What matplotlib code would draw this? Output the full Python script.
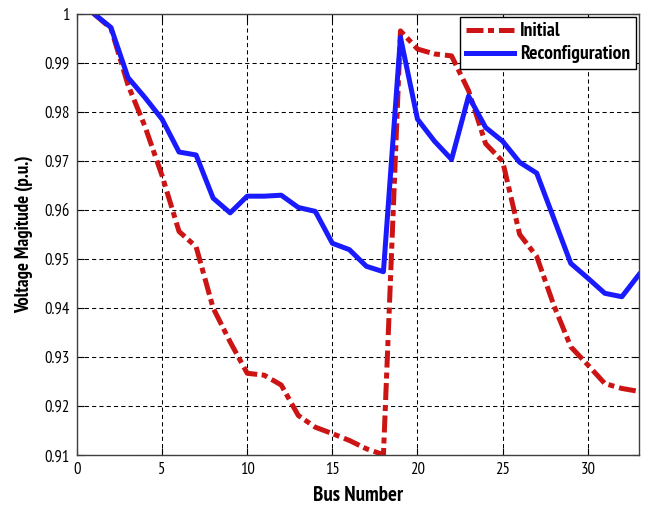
import numpy as np
import matplotlib
matplotlib.use("Agg")
import matplotlib.pyplot as plt
from matplotlib.ticker import FuncFormatter

plt.rcParams["font.family"] = ["PT Sans Narrow", "Roboto Condensed", "Liberation Sans", "DejaVu Sans"]

# bus voltage profile, 33-bus feeder
bus = np.arange(1, 34)
v_initial = [1.0, 0.997, 0.9855, 0.977, 0.967, 0.9556, 0.9525, 0.940, 0.9331, 0.9267,
             0.9263, 0.9243, 0.9181, 0.9157, 0.9144, 0.913, 0.9113, 0.9101, 0.9965, 0.9928,
             0.9918, 0.9914, 0.9843, 0.9735, 0.9699, 0.955, 0.9505, 0.9406, 0.9321, 0.9284,
             0.9246, 0.9236, 0.923]
v_reconf = [1.0, 0.9972, 0.987, 0.9829, 0.9785, 0.9718, 0.9712, 0.9624, 0.9594, 0.9628,
            0.9628, 0.963, 0.9605, 0.9597, 0.9532, 0.9519, 0.9485, 0.9474, 0.9952, 0.9785,
            0.974, 0.9703, 0.9832, 0.9768, 0.974, 0.9697, 0.9675, 0.9583, 0.9491, 0.9461,
            0.943, 0.9423, 0.9468]

fig = plt.figure(figsize=(6.46, 5.08), dpi=100)
ax = fig.add_axes([0.119, 0.104, 0.870, 0.869])

ax.plot(bus, v_initial, color="#cc1414", lw=3.6, ls=(0, (3.4, 0.9, 1.2, 1.0)), label="Initial")
ax.plot(bus, v_reconf, color="#1a1aff", lw=3.6, label="Reconfiguration")

ax.set_xlim(0, 33)
ax.set_ylim(0.91, 1.0)
ax.set_xticks(np.arange(0, 31, 5))
ax.set_yticks(np.round(np.arange(0.91, 1.001, 0.01), 2))
ax.yaxis.set_major_formatter(FuncFormatter(lambda v, _: f"{v:g}"))
ax.tick_params(direction="in", labelsize=12, length=5, top=True, right=True, pad=5)
ax.grid(True, color="black", ls=(0, (4, 3)), lw=0.75)
for s in ax.spines.values():
    s.set_linewidth(1.0)
    s.set_color("#404040")

ax.set_xlabel("Bus Number", fontsize=15, fontweight="bold", labelpad=6)
ax.set_ylabel("Voltage Magitude (p.u.)", fontsize=13.5, fontweight="bold", labelpad=8)

leg = ax.legend(loc="upper right", prop={"weight": "bold", "size": 14}, fancybox=False,
                framealpha=1, edgecolor="black", handlelength=2.5, handletextpad=0.3,
                borderpad=0.3, labelspacing=0.25, borderaxespad=0.15)
leg.get_frame().set_linewidth(1.0)

fig.savefig("out.png", dpi=100)
